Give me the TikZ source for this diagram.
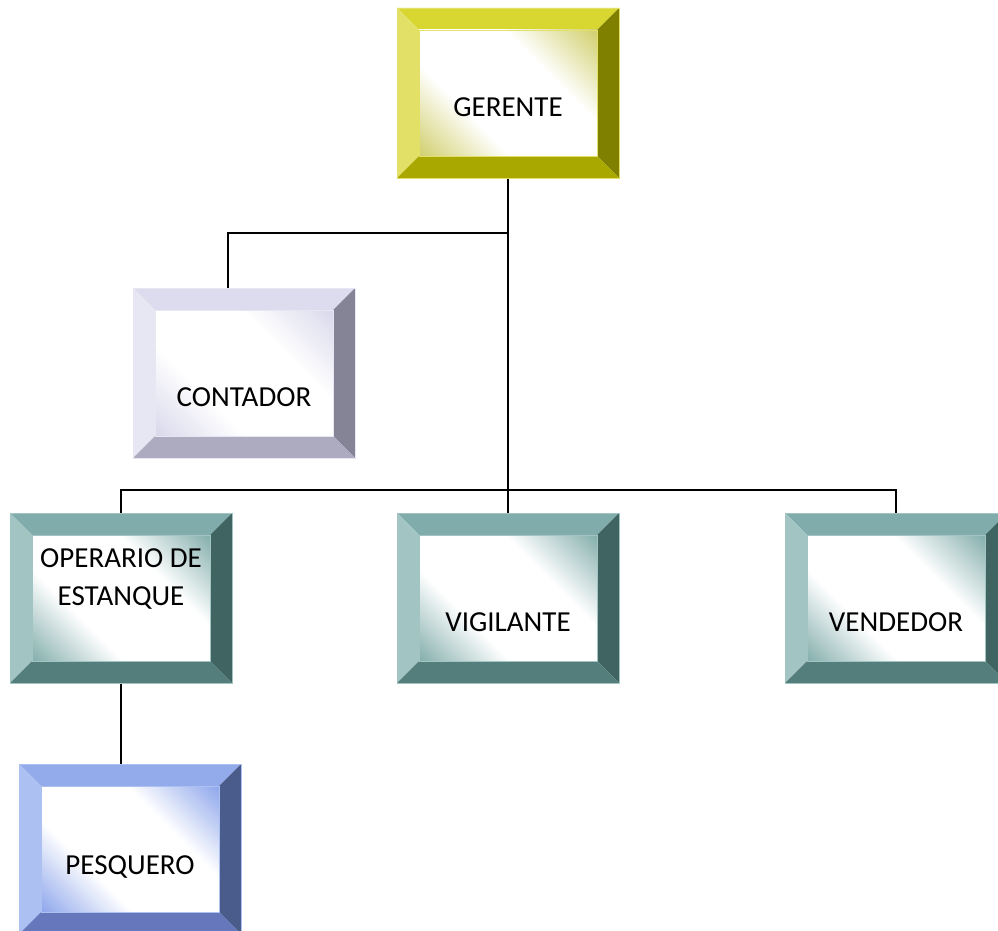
\documentclass[tikz,border=0pt]{standalone}
\usepackage{fontspec}
\setmainfont{Carlito}
\usetikzlibrary{calc}
\definecolor{yT}{HTML}{D8D630}\definecolor{yL}{HTML}{E2E066}\definecolor{yR}{HTML}{808000}\definecolor{yB}{HTML}{A9A800}\definecolor{yI}{HTML}{D2D070}
\definecolor{lT}{HTML}{DDDCEE}\definecolor{lL}{HTML}{E7E6F3}\definecolor{lR}{HTML}{858496}\definecolor{lB}{HTML}{ACABC0}\definecolor{lI}{HTML}{DAD9EC}
\definecolor{tT}{HTML}{80ADAB}\definecolor{tL}{HTML}{A2C5C3}\definecolor{tR}{HTML}{3F6462}\definecolor{tB}{HTML}{537E7C}\definecolor{tI}{HTML}{86B0AE}
\definecolor{bT}{HTML}{93ABEA}\definecolor{bL}{HTML}{ADC0F2}\definecolor{bR}{HTML}{4A5C8C}\definecolor{bB}{HTML}{6678BB}\definecolor{bI}{HTML}{90A8EC}
\pgfdeclareverticalshading{shY}{100bp}{color(0bp)=(yI); color(15bp)=(yI); color(36bp)=(white); color(64bp)=(white); color(85bp)=(yI); color(100bp)=(yI)}
\pgfdeclareverticalshading{shL}{100bp}{color(0bp)=(lI); color(15bp)=(lI); color(36bp)=(white); color(64bp)=(white); color(85bp)=(lI); color(100bp)=(lI)}
\pgfdeclareverticalshading{shT}{100bp}{color(0bp)=(tI); color(15bp)=(tI); color(36bp)=(white); color(64bp)=(white); color(85bp)=(tI); color(100bp)=(tI)}
\pgfdeclareverticalshading{shB}{100bp}{color(0bp)=(bI); color(15bp)=(bI); color(36bp)=(white); color(64bp)=(white); color(85bp)=(bI); color(100bp)=(bI)}
\newcommand\bevbox[6]{%
  \fill[#2] (#1.north west) -- (#1.north east) -- ($(#1.north east)+(-22,22)$) -- ($(#1.north west)+(22,22)$) -- cycle;
  \fill[#3] (#1.north west) -- ($(#1.north west)+(22,22)$) -- ($(#1.south west)+(22,-22)$) -- (#1.south west) -- cycle;
  \fill[#4] (#1.north east) -- (#1.south east) -- ($(#1.south east)+(-22,-22)$) -- ($(#1.north east)+(-22,22)$) -- cycle;
  \fill[#5] (#1.south west) -- (#1.south east) -- ($(#1.south east)+(-22,-22)$) -- ($(#1.south west)+(22,-22)$) -- cycle;
  \shade[shading=#6, shading angle=-45] ($(#1.north west)+(22,22)$) rectangle ($(#1.south east)+(-22,-22)$);
  \draw[#3, line width=0.8pt] ($(#1.north west)+(22,22)$) rectangle ($(#1.south east)+(-22,-22)$);
  \draw[#3, line width=0.8pt] (#1.north west) rectangle (#1.south east);
}
\tikzset{
  orgbox/.style={minimum width=222pt, minimum height=170pt, inner sep=0pt, outer sep=0pt},
  lbl/.style={font=\fontsize{29}{38}\selectfont, anchor=base, inner sep=0pt, align=center},
  conn/.style={line width=1.7pt, black}
}
\begin{document}
\begin{tikzpicture}[x=1pt, y=-1pt]
\useasboundingbox (0,0) rectangle (998,931);
\clip (0,0) rectangle (998,931);
\node[orgbox] (ger) at (508,93) {};
\node[orgbox] (cont) at (244,373) {};
\node[orgbox] (oper) at (121,598) {};
\node[orgbox] (vig) at (508,598) {};
\node[orgbox] (vend) at (896,598) {};
\node[orgbox] (pesq) at (130,849) {};
\coordinate (j1) at (508,233);
\coordinate (bus) at (508,490);
% connectors
\draw[conn] (ger.south) -- (vig.north);
\draw[conn] (j1) -| ([xshift=-16pt]cont.north);
\draw[conn] (oper.north) |- (bus) -| (vend.north);
\draw[conn] (oper.south) -- (oper.south |- pesq.north);
% boxes
\bevbox{ger}{yT}{yL}{yR}{yB}{shY}
\bevbox{cont}{lT}{lL}{lR}{lB}{shL}
\bevbox{oper}{tT}{tL}{tR}{tB}{shT}
\bevbox{vig}{tT}{tL}{tR}{tB}{shT}
\bevbox{vend}{tT}{tL}{tR}{tB}{shT}
\bevbox{pesq}{bT}{bL}{bR}{bB}{shB}
% labels
\node[lbl] (gerT) at (508,117) {GERENTE};
\node[lbl] (contT) at (244,406) {CONTADOR};
\node[lbl, anchor=north] (operT) at (121,548) {OPERARIO DE\\ESTANQUE};
\node[lbl] (vigT) at (508,631) {VIGILANTE};
\node[lbl] (vendT) at (896,631) {VENDEDOR};
\node[lbl] (pesqT) at (130,874) {PESQUERO};
\end{tikzpicture}
\end{document}
